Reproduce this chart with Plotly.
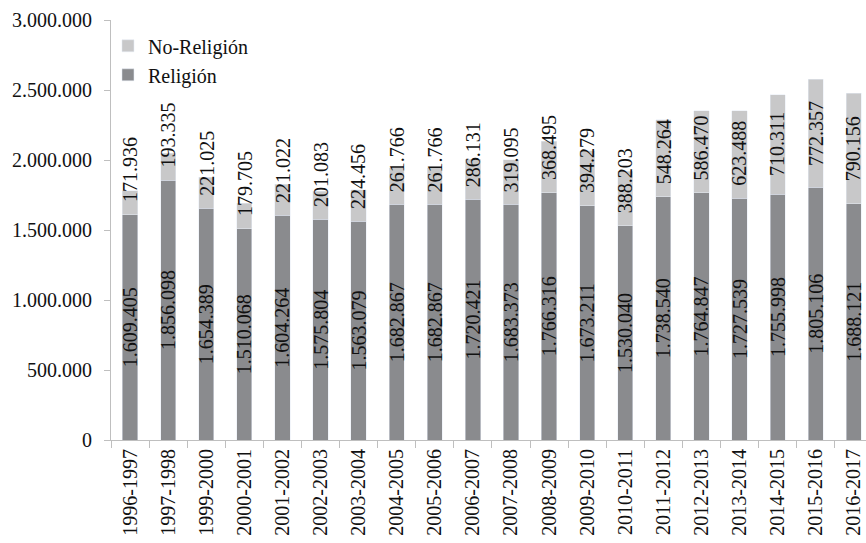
import plotly.graph_objects as go

categories = ["1996-1997", "1997-1998", "1999-2000", "2000-2001", "2001-2002",
              "2002-2003", "2003-2004", "2004-2005", "2005-2006", "2006-2007",
              "2007-2008", "2008-2009", "2009-2010", "2010-2011", "2011-2012",
              "2012-2013", "2013-2014", "2014-2015", "2015-2016", "2016-2017"]
religion = [1609405, 1856098, 1654389, 1510068, 1604264, 1575804, 1563079,
            1682867, 1682867, 1720421, 1683373, 1766316, 1673211, 1530040,
            1738540, 1764847, 1727539, 1755998, 1805106, 1688121]
no_religion = [171936, 193335, 221025, 179705, 221022, 201083, 224456,
               261766, 261766, 286131, 319095, 368495, 394279, 388203,
               548264, 586470, 623488, 710311, 772357, 790156]
y_ticks = [0, 500000, 1000000, 1500000, 2000000, 2500000, 3000000]


def fmt(v):
    return f"{v:,}".replace(",", ".")


FONT = "Liberation Serif, Times New Roman, serif"
DARK = "#8a8b8e"
LIGHT = "#c8c8c9"
AXIS = "#bfbfbf"

fig = go.Figure()
fig.add_trace(go.Bar(
    x=categories, y=religion, name="Religión", marker_color=DARK,
    text=[fmt(v) for v in religion], textposition="inside",
    insidetextanchor="middle", textangle=-90, constraintext="none",
    insidetextfont=dict(family=FONT, size=20, color="#111111"),
    width=0.4,
))
fig.add_trace(go.Bar(
    x=categories, y=no_religion, name="No-Religión", marker_color=LIGHT,
    textposition="none", width=0.4,
))

# No-Religión labels: centred on the segment, but kept clear of the lower segment
for c, r, n in zip(categories, religion, no_religion):
    fig.add_annotation(
        x=c, y=r + max(n / 2, 320000), text=fmt(n), textangle=-90,
        showarrow=False, xanchor="center", yanchor="middle",
        font=dict(family=FONT, size=20, color="#111111"),
    )

fig.update_layout(
    width=866, height=543,
    barmode="stack",
    paper_bgcolor="white", plot_bgcolor="white",
    margin=dict(l=111, r=0, t=20, b=103),
    separators=",.",
    font=dict(family=FONT, size=20, color="#111111"),
    showlegend=True,
    legend=dict(x=-0.004, y=0.985, xanchor="left", yanchor="top",
                bgcolor="rgba(0,0,0,0)", font=dict(family=FONT, size=20)),
    xaxis=dict(range=[-0.5, 19.32], showline=True, linecolor=AXIS, linewidth=1,
               ticks="outside", tickson="boundaries", ticklen=7, tickcolor=AXIS,
               tickangle=-90, showgrid=False, automargin=False,
               tickfont=dict(family=FONT, size=20)),
    yaxis=dict(range=[0, 3000000], tickvals=y_ticks, tickformat=",d",
               showline=True, linecolor=AXIS, linewidth=1, ticks="outside",
               ticklen=6, tickcolor=AXIS, showgrid=False, zeroline=False,
               automargin=False, ticklabelstandoff=8,
               tickfont=dict(family=FONT, size=20)),
)

fig.write_html(
    "out.html",
    config={"displayModeBar": False},
    post_script="document.body.style.margin='0';document.body.style.overflow='hidden';",
)
